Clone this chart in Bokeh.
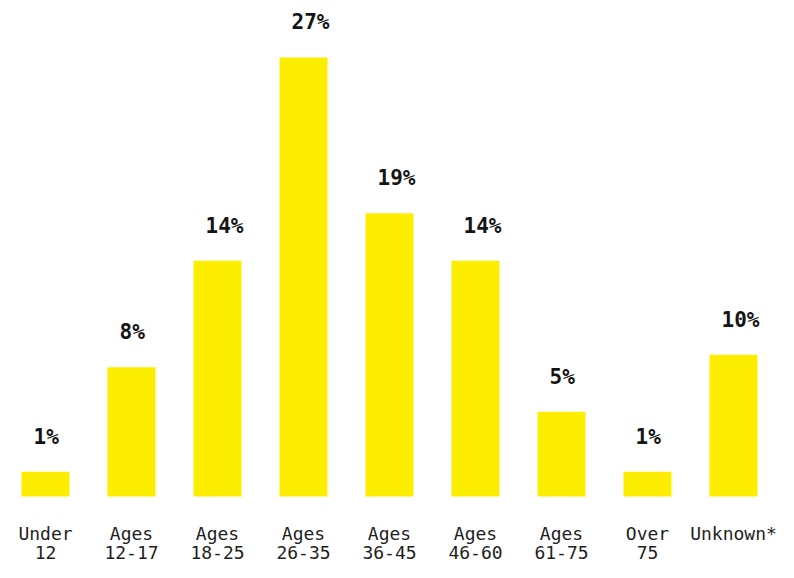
import numpy as np
from bokeh.plotting import figure
from bokeh.models import Range1d, ColumnDataSource
from bokeh.core.properties import value
from bokeh.embed import file_html
from bokeh.resources import INLINE

categories = ["Under\n12", "Ages\n12-17", "Ages\n18-25", "Ages\n26-35", "Ages\n36-45",
              "Ages\n46-60", "Ages\n61-75", "Over\n75", "Unknown*"]
values = [1.52, 7.95, 14.49, 27.0, 17.41, 14.49, 5.21, 1.52, 8.72]
labels = ["1%", "8%", "14%", "27%", "19%", "14%", "5%", "1%", "10%"]

BAR = "#FDEE00"
FONT = "DejaVu Sans Mono"

parts = [c.split("\n") for c in categories]
line1 = [pp[0] for pp in parts]
line2 = [pp[1] if len(pp) > 1 else "" for pp in parts]

src = ColumnDataSource(dict(
    x=np.arange(len(categories)),
    v=values,
    lab=labels,
    l1=line1,
    l2=line2,
    zero=[0] * len(categories),
))

p = figure(width=778, height=562, x_range=Range1d(-0.5233, 8.5233),
           y_range=Range1d(-4.059, 30.5), output_backend="svg",
           toolbar_location=None, min_border=0)
p.axis.visible = False
p.grid.visible = False
p.outline_line_color = None
p.background_fill_color = "white"

p.vbar(x="x", top="v", bottom=0, width=0.558, source=src, fill_color=BAR, line_color=None)

p.text(x="x", y="v", text="lab", source=src, text_font=value(FONT),
       text_font_style="bold", text_font_size="21px", text_color="#141414",
       text_align="left", text_baseline="alphabetic", x_offset=-12, y_offset=-35)

for col, off in (("l1", 37), ("l2", 56)):
    p.text(x="x", y="zero", text=col, source=src, text_font=value(FONT),
           text_font_size="18px", text_color="#1e1e1e", text_align="center",
           text_baseline="alphabetic", y_offset=off)

open("out.html", "w").write(file_html(p, INLINE))
